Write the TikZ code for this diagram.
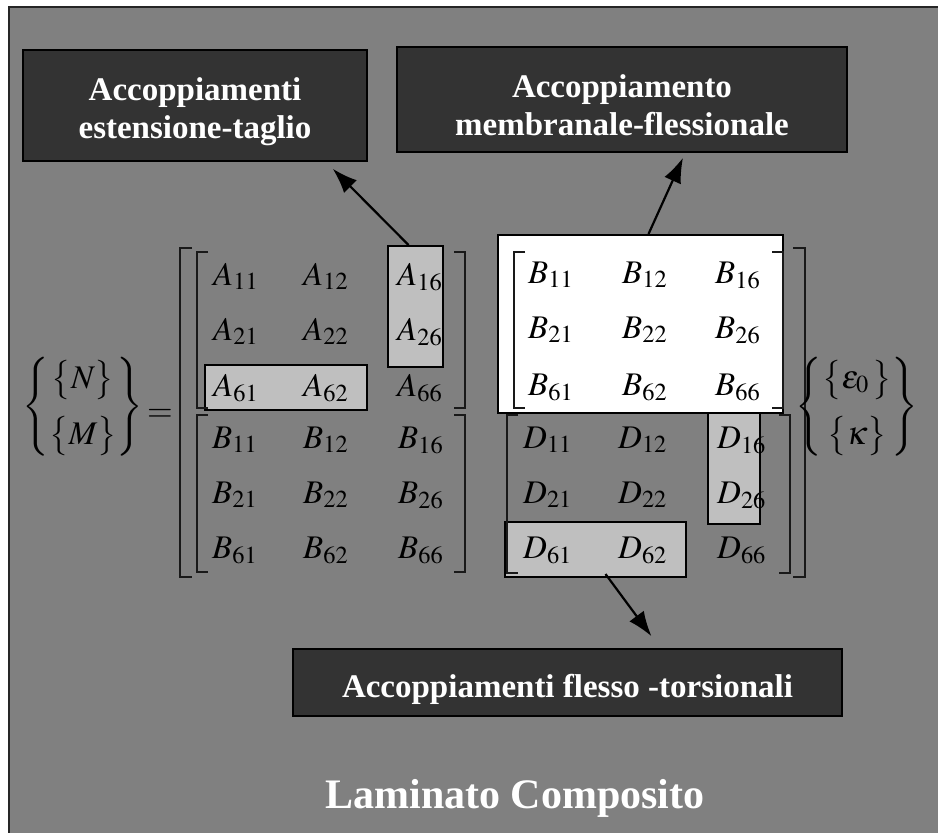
\documentclass[tikz,border=0pt]{standalone}
\usepackage{mathptmx}
\usepackage[no-math]{fontspec}
\setmainfont{Liberation Serif}
\usetikzlibrary{calc}
\usetikzlibrary{positioning}
\usetikzlibrary{arrows.meta}

\definecolor{panelGray}{gray}{0.5}
\definecolor{darkBox}{gray}{0.2}
\definecolor{hiliteGray}{gray}{0.75}

\tikzset{
    darkbox/.style={rectangle, draw=black, line width=1.5pt, fill=darkBox, inner sep=0pt},
    boxtext/.style={text=white, font=\fontsize{33}{38}\selectfont\bfseries, align=center, inner sep=0pt},
    hilite/.style={rectangle, draw=black, line width=2pt, fill=hiliteGray, inner sep=0pt},
    entry/.style={anchor=base west, inner sep=0pt, font=\fontsize{33}{40}\selectfont},
    brk/.style={draw=black!90, line width=1.6pt},
    pointer/.style={line width=2.2pt, -{Latex[length=25pt,width=18pt]}}
}

\begin{document}
\begin{tikzpicture}[x=1pt, y=-1pt]
    \useasboundingbox (0,0) rectangle (938,833);
    \fill[panelGray] (9,7) rectangle (945,840);
    \draw[line width=2pt, black!85] (9,840) -- (9,7) -- (945,7);

    % label boxes
    \node [darkbox, minimum width=344pt, minimum height=111pt] (boxEstensione) at (195,105.5) {};
    \node [boxtext] (txtEstensione) at ($(boxEstensione.center)+(0,6)$) {Accoppiamenti\\estensione-taglio};
    \node [darkbox, minimum width=450pt, minimum height=105pt] (boxMembranale) at (622,99.5) {};
    \node [boxtext] (txtMembranale) at ($(boxMembranale.center)+(0,6)$) {Accoppiamento\\membranale-flessionale};
    \node [darkbox, minimum width=549pt, minimum height=67pt] (boxFlesso) at (567.5,682.5) {};
    \node [boxtext, anchor=base] (txtFlesso) at ($(boxFlesso.center)+(0,14.5)$) {Accoppiamenti flesso -torsionali};
    \node [text=white, font=\fontsize{42}{50}\selectfont\bfseries, anchor=base, inner sep=0pt] (title) at (515,808) {Laminato Composito};

    % highlighted sub-blocks
    \node [rectangle, draw=black, line width=2pt, fill=white, minimum width=285pt, minimum height=178pt] (frameB) at (640.5,324) {};
    \node [hilite, minimum width=55pt, minimum height=121pt] (hlA16) at (415.5,306.5) {};
    \node [hilite, minimum width=162pt, minimum height=45pt] (hlA61) at (286,387.5) {};
    \node [hilite, minimum width=52pt, minimum height=111pt] (hlD16) at (734,468.5) {};
    \node [hilite, minimum width=181pt, minimum height=55pt] (hlD61) at (595.5,549.5) {};

    % brackets
    \draw[brk] (192,248) -- (180,248) -- (180,577) -- (192,577);
    \draw[brk] (208,252) -- (197,252) -- (197,408) -- (208,408);
    \draw[brk] (454,252) -- (465,252) -- (465,408) -- (454,408);
    \draw[brk] (208,415) -- (197,415) -- (197,572) -- (208,572);
    \draw[brk] (454,415) -- (465,415) -- (465,572) -- (454,572);
    \draw[brk] (525,252) -- (514,252) -- (514,408) -- (525,408);
    \draw[brk] (772,252) -- (783,252) -- (783,408) -- (772,408);
    \draw[brk] (518,415) -- (507,415) -- (507,573) -- (518,573);
    \draw[brk] (779,415) -- (790,415) -- (790,573) -- (779,573);
    \draw[brk] (793,248) -- (805,248) -- (805,577) -- (793,577);

    % A
    \node [entry] (a11) at (213,285) {$A_{11}$};
    \node [entry] (a12) at (303,285) {$A_{12}$};
    \node [entry] (a16) at (397,285) {$A_{16}$};
    \node [entry] (a21) at (213,340) {$A_{21}$};
    \node [entry] (a22) at (303,340) {$A_{22}$};
    \node [entry] (a26) at (397,340) {$A_{26}$};
    \node [entry] (a61) at (213,396) {$A_{61}$};
    \node [entry] (a62) at (303,396) {$A_{62}$};
    \node [entry] (a66) at (397,396) {$A_{66}$};
    % B (top right)
    \node [entry] (bTop11) at (528,283) {$B_{11}$};
    \node [entry] (bTop12) at (622,283) {$B_{12}$};
    \node [entry] (bTop16) at (715,283) {$B_{16}$};
    \node [entry] (bTop21) at (528,338) {$B_{21}$};
    \node [entry] (bTop22) at (622,338) {$B_{22}$};
    \node [entry] (bTop26) at (715,338) {$B_{26}$};
    \node [entry] (bTop61) at (528,395) {$B_{61}$};
    \node [entry] (bTop62) at (622,395) {$B_{62}$};
    \node [entry] (bTop66) at (715,395) {$B_{66}$};
    % B (bottom left)
    \node [entry] (bBot11) at (212,448) {$B_{11}$};
    \node [entry] (bBot12) at (303,448) {$B_{12}$};
    \node [entry] (bBot16) at (398,448) {$B_{16}$};
    \node [entry] (bBot21) at (212,503) {$B_{21}$};
    \node [entry] (bBot22) at (303,503) {$B_{22}$};
    \node [entry] (bBot26) at (398,503) {$B_{26}$};
    \node [entry] (bBot61) at (212,558) {$B_{61}$};
    \node [entry] (bBot62) at (303,558) {$B_{62}$};
    \node [entry] (bBot66) at (398,558) {$B_{66}$};
    % D
    \node [entry] (d11) at (523,448) {$D_{11}$};
    \node [entry] (d12) at (618,448) {$D_{12}$};
    \node [entry] (d16) at (717,448) {$D_{16}$};
    \node [entry] (d21) at (523,503) {$D_{21}$};
    \node [entry] (d22) at (618,503) {$D_{22}$};
    \node [entry] (d26) at (717,503) {$D_{26}$};
    \node [entry] (d61) at (523,558) {$D_{61}$};
    \node [entry] (d62) at (618,558) {$D_{62}$};
    \node [entry] (d66) at (717,558) {$D_{66}$};

    % vectors
    \node [inner sep=0pt, font=\fontsize{33}{40}\selectfont] (vecNM) at (83,407) {$\left\{\begin{array}{@{}c@{}}\left\{\rule[-10pt]{0pt}{40pt}N\right\}\\[14pt]\left\{\rule[-10pt]{0pt}{40pt}M\right\}\end{array}\right\}$};
    \node [inner sep=0pt, font=\fontsize{33}{40}\selectfont] (equals) at (160,415) {$=$};
    \node [inner sep=0pt, font=\fontsize{33}{40}\selectfont] (vecEK) at (857,407) {$\left\{\begin{array}{@{}c@{}}\left\{\rule[-10pt]{0pt}{40pt}\varepsilon_{0}\,\right\}\\[14pt]\left\{\rule[-10pt]{0pt}{40pt}\kappa\right\}\end{array}\right\}$};

    % arrows
    \draw [pointer] ($(hlA16.north)+(-7,0)$) -- ($(boxEstensione.south east)+(-35,7)$);
    \draw [pointer] ($(frameB.north)+(8,0)$) -- ($(boxMembranale.south)+(61,5)$);
    \draw [pointer] ($(hlD61.south)+(10,-4)$) -- ($(boxFlesso.north)+(84,-12)$);
\end{tikzpicture}
\end{document}
